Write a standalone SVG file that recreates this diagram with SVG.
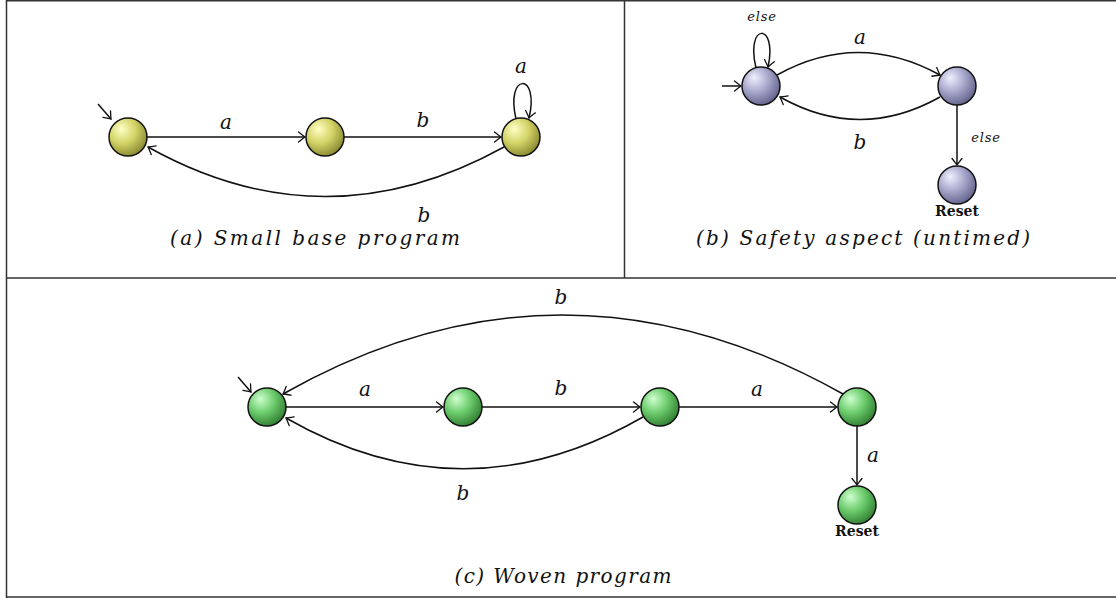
<svg xmlns="http://www.w3.org/2000/svg" width="1116" height="598" viewBox="0 0 1116 598">
<defs>
<radialGradient id="gy" cx="0.38" cy="0.35" r="0.7" fx="0.32" fy="0.28">
<stop offset="0" stop-color="#ffffc8"/><stop offset="0.5" stop-color="#d4d468"/><stop offset="1" stop-color="#85852e"/>
</radialGradient>
<radialGradient id="gb" cx="0.38" cy="0.35" r="0.7" fx="0.32" fy="0.28">
<stop offset="0" stop-color="#f0f0ff"/><stop offset="0.5" stop-color="#a8a8cc"/><stop offset="1" stop-color="#5e5e88"/>
</radialGradient>
<radialGradient id="gg" cx="0.38" cy="0.35" r="0.7" fx="0.32" fy="0.28">
<stop offset="0" stop-color="#d0ffd0"/><stop offset="0.5" stop-color="#6ccc6c"/><stop offset="1" stop-color="#2e7a2e"/>
</radialGradient>
<marker id="ar" viewBox="-8 -6 10 12" markerWidth="10" markerHeight="12" refX="0" refY="0" orient="auto" markerUnits="userSpaceOnUse">
<path d="M -6.5 -5 Q -1.5 -1 0 0 Q -1.5 1 -6.5 5" fill="none" stroke="#111" stroke-width="1.3" stroke-linecap="round"/>
</marker>
</defs>
<style>
.frame{stroke:#333;stroke-width:1.5;fill:none}
.e{fill:none;stroke:#111;stroke-width:1.5;marker-end:url(#ar)}
.n{stroke:#111;stroke-width:1.5}
.lbl{font-family:"DejaVu Serif","Liberation Serif",serif;font-style:italic;font-size:20px;fill:#111;text-anchor:middle}
.sm{font-family:"DejaVu Serif","Liberation Serif",serif;font-style:italic;font-size:13px;fill:#111;text-anchor:middle;letter-spacing:0.8px}
.cap{font-family:"DejaVu Serif","Liberation Serif",serif;font-style:italic;font-size:20px;fill:#111;text-anchor:middle}
.rs{font-family:"DejaVu Serif","Liberation Serif",serif;font-weight:bold;font-size:14px;fill:#111;text-anchor:middle}
</style>
<g id="frame">
<line class="frame" x1="6.5" y1="0" x2="6.5" y2="598"/>
<line class="frame" x1="6.5" y1="0.75" x2="1116" y2="0.75"/>
<line class="frame" x1="624.5" y1="0" x2="624.5" y2="278"/>
<line class="frame" x1="6.5" y1="278" x2="1116" y2="278"/>
<line class="frame" x1="6.5" y1="597" x2="1116" y2="597"/>
</g>
<g id="connectors">
<line class="e" x1="98" y1="104" x2="111" y2="119"/>
<line class="e" x1="147" y1="137" x2="305" y2="137"/>
<line class="e" x1="344" y1="137" x2="501" y2="137"/>
<path class="e" d="M 516 119 C 505 72, 540 72, 529 118"/>
<path class="e" d="M 504 147 Q 325 246 148 147"/>
<line class="e" x1="722" y1="86" x2="741" y2="86"/>
<path class="e" d="M 756 68 C 745 22, 778 22, 768 67"/>
<path class="e" d="M 777 75 Q 858 30 940 75"/>
<path class="e" d="M 940 97 Q 860 142 780 97"/>
<line class="e" x1="957" y1="105" x2="957" y2="165"/>
<line class="e" x1="238" y1="377" x2="251" y2="392"/>
<line class="e" x1="286" y1="407" x2="443" y2="407"/>
<line class="e" x1="482" y1="407" x2="640" y2="407"/>
<line class="e" x1="679" y1="407" x2="837" y2="407"/>
<line class="e" x1="857" y1="426" x2="857" y2="485"/>
<path class="e" d="M 843 394 Q 562 236 283 394"/>
<path class="e" d="M 643 417 Q 464 520 286 418"/>
</g>
<g id="labels">
<text class="lbl" x="226" y="129">a</text>
<text class="lbl" x="423" y="127">b</text>
<text class="lbl" x="521" y="73">a</text>
<text class="lbl" x="424" y="222">b</text>
<text class="cap" x="315" y="245" textLength="290" lengthAdjust="spacing">(a) Small base program</text>
<text class="sm" x="762" y="21">else</text>
<text class="lbl" x="860" y="44">a</text>
<text class="lbl" x="860" y="149">b</text>
<text class="sm" x="986" y="142">else</text>
<text class="rs" x="957" y="216">Reset</text>
<text class="cap" x="863" y="245" textLength="334" lengthAdjust="spacing">(b) Safety aspect (untimed)</text>
<text class="lbl" x="561" y="304">b</text>
<text class="lbl" x="365" y="396">a</text>
<text class="lbl" x="561" y="395">b</text>
<text class="lbl" x="757" y="396">a</text>
<text class="lbl" x="873" y="462">a</text>
<text class="lbl" x="463" y="500">b</text>
<text class="rs" x="857" y="536">Reset</text>
<text class="cap" x="563" y="583" textLength="217" lengthAdjust="spacing">(c) Woven program</text>
</g>
<g id="a1"><circle class="n" cx="128" cy="137" r="19" fill="url(#gy)"/></g>
<g id="a2"><circle class="n" cx="325" cy="137" r="19" fill="url(#gy)"/></g>
<g id="a3"><circle class="n" cx="521" cy="137" r="19" fill="url(#gy)"/></g>
<g id="b1"><circle class="n" cx="761" cy="86" r="19" fill="url(#gb)"/></g>
<g id="b2"><circle class="n" cx="957" cy="86" r="19" fill="url(#gb)"/></g>
<g id="b3"><circle class="n" cx="957" cy="185" r="19" fill="url(#gb)"/></g>
<g id="c1"><circle class="n" cx="267" cy="407" r="19" fill="url(#gg)"/></g>
<g id="c2"><circle class="n" cx="463" cy="407" r="19" fill="url(#gg)"/></g>
<g id="c3"><circle class="n" cx="660" cy="407" r="19" fill="url(#gg)"/></g>
<g id="c4"><circle class="n" cx="857" cy="407" r="19" fill="url(#gg)"/></g>
<g id="c5"><circle class="n" cx="857" cy="505" r="19" fill="url(#gg)"/></g>
</svg>
